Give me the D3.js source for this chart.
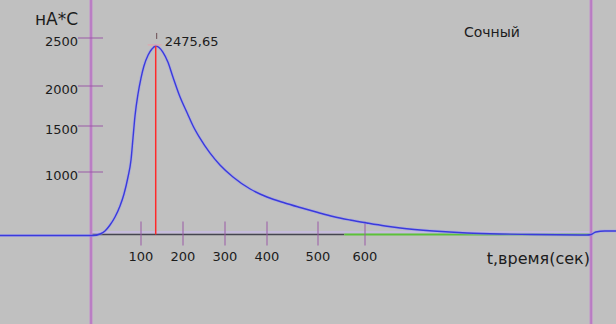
<!DOCTYPE html>
<html>
<head>
<meta charset="utf-8">
<script src="https://cdn.jsdelivr.net/npm/d3@7"></script>
<style>
  body { margin: 0; background: #c0c0c0; }
  svg { display: block; font-family: "DejaVu Sans", Verdana, sans-serif; }
</style>
</head>
<body>
<div id="vis"></div>
<script>
// values
let timeSec = [-182, -82, 4, 18, 28, 38, 48, 58, 66, 74, 80, 84, 88, 94, 100, 107, 117, 126, 135, 143, 152, 164, 176, 193, 210, 224, 240, 264, 288, 319, 360, 400, 435, 465, 500, 532, 568, 604, 643, 675, 745, 817, 887, 957, 1072, 1081, 1091, 1110, 1134];
let charge = [-16, -16, -16, 8, 56, 152, 280, 456, 648, 920, 1130, 1370, 1625, 1900, 2083, 2208, 2323, 2385, 2417, 2401, 2354, 2250, 2094, 1862, 1662, 1500, 1370, 1207, 1076, 920, 728, 600, 504, 432, 352, 288, 232, 184, 136, 104, 56, 24, 8, 0, -8, 0, 40, 56, 56];
let xTicks = [100, 200, 300, 400, 500, 600];
let yTicks = [1000, 1500, 2000, 2500];
let peakLabel = "2475,65";
let greenFrom = 556, greenTo = 1081;

let width = 616, height = 324;

let svg = d3.select('#vis')
  .append('svg')
  .attr('width', width)
  .attr('height', height)
  .style('background-color', '#c0c0c0');

// the original axes are not evenly spaced, so polylinear scales
let x = d3.scaleLinear()
  .domain([0, 100, 200, 300, 400, 500, 600])
  .range([91, 141, 183, 225, 267, 318, 365]);
let y = d3.scaleLinear()
  .domain([0, 1000, 1500, 2000, 2500])
  .range([234.5, 172, 126, 86, 38]);

// lavender band + axis line
svg.append('rect')
  .attr('x', x(0)).attr('y', y(0) - 3.5)
  .attr('width', x(1081) - x(0)).attr('height', 2.5)
  .style('fill', '#c6bcdc');
svg.append('line')
  .attr('x1', x(0)).attr('x2', x(greenFrom))
  .attr('y1', y(0)).attr('y2', y(0))
  .style('stroke', '#45454f').style('stroke-width', 1.5);
svg.append('line')
  .attr('x1', x(greenFrom)).attr('x2', x(greenTo))
  .attr('y1', y(0)).attr('y2', y(0))
  .style('stroke', '#5cc03a').style('stroke-width', 2);

// vertical purple axes
[0, 1081].forEach(t => {
  svg.append('line')
    .attr('x1', x(t)).attr('x2', x(t))
    .attr('y1', 0).attr('y2', height)
    .style('stroke', '#c48ccc').style('stroke-width', 3);
  svg.append('line')
    .attr('x1', x(t)).attr('x2', x(t))
    .attr('y1', 0).attr('y2', height)
    .style('stroke', '#b070bc').style('stroke-width', 1);
});

// y ticks
svg.selectAll('.ytick')
  .data(yTicks)
  .enter().append('line')
  .attr('class', 'ytick')
  .attr('x1', 78).attr('x2', 103)
  .attr('y1', d => y(d)).attr('y2', d => y(d))
  .style('stroke', '#9a5aa6').style('stroke-width', 1);
svg.selectAll('.ylab')
  .data(yTicks)
  .enter().append('text')
  .attr('class', 'ylab')
  .attr('x', 78)
  .attr('y', d => y(d) + 3)
  .attr('dy', '0.35em')
  .attr('text-anchor', 'end')
  .style('font-size', '13px')
  .style('fill', '#1c1c1c')
  .text(d => d);

// x ticks
svg.selectAll('.xtick')
  .data(xTicks)
  .enter().append('line')
  .attr('class', 'xtick')
  .attr('x1', d => x(d)).attr('x2', d => x(d))
  .attr('y1', y(0) - 13).attr('y2', y(0) + 11)
  .style('stroke', '#9a5aa6').style('stroke-width', 1);
svg.selectAll('.xlab')
  .data(xTicks)
  .enter().append('text')
  .attr('class', 'xlab')
  .attr('x', d => x(d))
  .attr('y', 256)
  .attr('dy', '0.35em')
  .attr('text-anchor', 'middle')
  .style('font-size', '13px')
  .style('fill', '#1c1c1c')
  .text(d => d);

// curve
let line = d3.line()
  .x((d, i) => x(timeSec[i]))
  .y(d => y(d))
  .curve(d3.curveMonotoneX);
svg.append('path')
  .datum(charge)
  .attr('d', line)
  .style('fill', 'none')
  .style('stroke', '#9c9cf0')
  .style('stroke-width', 3)
  .style('opacity', 0.5);
svg.append('path')
  .datum(charge)
  .attr('d', line)
  .style('fill', 'none')
  .style('stroke', '#3a3adc')
  .style('stroke-width', 1.4);

// peak marker
let iMax = d3.maxIndex(charge);
let px = x(timeSec[iMax]), py = y(charge[iMax]);
svg.append('line')
  .attr('x1', px).attr('x2', px)
  .attr('y1', py).attr('y2', y(0))
  .style('stroke', '#ff2a2a').style('stroke-width', 1.5);
svg.append('line')
  .attr('x1', px - 8).attr('x2', px + 6)
  .attr('y1', py - 1).attr('y2', py - 1)
  .style('stroke', '#e8a0a8').style('stroke-width', 1);
svg.append('line')
  .attr('x1', px + 1).attr('x2', px + 1)
  .attr('y1', py - 13).attr('y2', py - 7)
  .style('stroke', '#6a4a50').style('stroke-width', 1);
svg.append('text')
  .attr('x', px + 9)
  .attr('y', py - 5)
  .attr('dy', '0.35em')
  .style('font-size', '13px')
  .style('fill', '#1c1c1c')
  .text(peakLabel);

// labels
svg.append('text')
  .attr('x', 35).attr('y', 19)
  .attr('dy', '0.35em')
  .style('font-size', '17px')
  .style('fill', '#1c1c1c')
  .text('нА*С');
svg.append('text')
  .attr('x', 464).attr('y', 32)
  .attr('dy', '0.35em')
  .style('font-size', '14px')
  .style('fill', '#1c1c1c')
  .text('Сочный');
svg.append('text')
  .attr('x', 590).attr('y', 258)
  .attr('dy', '0.35em')
  .attr('text-anchor', 'end')
  .style('font-size', '16px')
  .style('fill', '#1c1c1c')
  .text('t,время(сек)');
</script>
</body>
</html>
